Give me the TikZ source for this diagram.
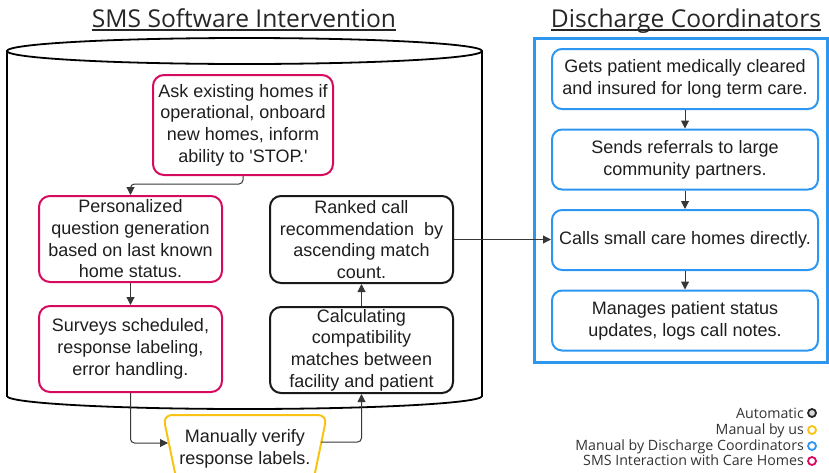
\documentclass[tikz,border=0pt]{standalone}
\usepackage{fontspec}
\setmainfont{Liberation Sans}[Ligatures=TeXOff]
\newfontfamily\titlefont{Open Sans}
\usetikzlibrary{arrows.meta}
\definecolor{pinkc}{RGB}{214,10,95}
\definecolor{yellowc}{RGB}{250,195,20}
\definecolor{bluec}{RGB}{45,150,240}
\definecolor{txt}{RGB}{30,30,30}
\definecolor{arrc}{RGB}{55,55,55}
\begin{document}
\begin{tikzpicture}[x=1pt,y=-1pt,
  box/.style={draw, rounded corners=11pt, line width=2pt, align=center, text=txt,
    font=\fontsize{18}{21.7}\selectfont, inner sep=0pt},
  pinkbox/.style={box, draw=pinkc, minimum width=183pt, minimum height=86pt},
  blackbox/.style={box, draw=black!90, minimum width=183pt, minimum height=86pt},
  bluebox/.style={box, draw=bluec, minimum width=266pt, minimum height=60pt, rounded corners=10pt},
  arr/.style={draw=arrc, line width=1pt, rounded corners=4pt, -{Triangle[length=8pt,width=8pt]}, fill=none},
  ttl/.style={font=\titlefont\fontsize{24.6}{28}\selectfont, text=black!85, inner sep=0pt},
  leg/.style={font=\titlefont\fontsize{14.2}{16}\selectfont, text=black!80, inner sep=0pt, anchor=base east},
  legc/.style={line width=1.8pt}
]
\useasboundingbox (0,0) rectangle (829,472);
\clip (0,0) rectangle (829,472);

% titles
\node[ttl, anchor=base] (t1) at (244,27) {SMS Software Intervention};
\draw[line width=1.2pt, black!85] ([yshift=-3pt]t1.base west) -- ([yshift=-3pt]t1.base east);
\node[ttl, anchor=base] (t2) at (686,27) {Discharge Coordinators};
\draw[line width=1.2pt, black!85] ([yshift=-3pt]t2.base west) -- ([yshift=-3pt]t2.base east);

% cylinder
\draw[line width=1.8pt] (244.5,51) ellipse [x radius=237.5pt, y radius=13pt];
\draw[line width=1.8pt] (7,51) -- (7,396) arc[start angle=180, end angle=360, x radius=237.5pt, y radius=13pt] -- (482,51);

% blue container
\draw[bluec, line width=3pt] (534,38) rectangle (827.5,362);

% left boxes
\node[pinkbox, minimum width=180pt, minimum height=100pt] (ask) at (243,125)
  {Ask existing homes if\\operational, onboard\\new homes, inform\\ability to 'STOP.'};
\node[pinkbox] (pers) at (130.5,239) {Personalized\\question generation\\based on last known\\home status.};
\node[pinkbox] (surv) at (130.5,349) {Surveys scheduled,\\response labeling,\\error handling.};
\node[blackbox, minimum height=87pt] (rank) at (361.5,239.5) {Ranked call\\recommendation\ \ by\\ascending match\\count.};
\node[blackbox] (calc) at (361.5,350) {Calculating\\compatibility\\matches between\\facility and patient};

% trapezoid
\draw[yellowc, line width=2pt, rounded corners=9pt] (163,415) -- (327,415) -- (311,492) -- (179,492) -- cycle;
\node[align=center, text=txt, font=\fontsize{18}{21.7}\selectfont, inner sep=0pt] (verify) at (245,449)
  {Manually verify\\response labels.};
\coordinate (vl) at (168,443);
\coordinate (vr) at (321,442);

% blue boxes
\node[bluebox] (b1) at (685,79) {Gets patient medically cleared\\and insured for long term care.};
\node[bluebox] (b2) at (685,159.5) {Sends referrals to large\\community partners.};
\node[bluebox] (b3) at (685,240) {Calls small care homes directly.};
\node[bluebox] (b4) at (685,320.5) {Manages patient status\\updates, logs call notes.};

% connectors
\draw[arr] (ask.south) -- ++(0,8) -| (pers.north);
\draw[arr] (pers.south) -- (surv.north);
\draw[arr] (surv.south) |- (vl);
\draw[arr] (vr) -| (calc.south);
\draw[arr] (calc.north) -- (rank.south);
\draw[arr] (rank.east) -- (rank.east -| b3.west);
\draw[arr] (b1.south) -- (b2.north);
\draw[arr] (b2.south) -- (b3.north);
\draw[arr] (b3.south) -- (b4.north);

% legend
\node[leg] (l1) at (804,418) {Automatic};
\node[leg] (l2) at (804,434.5) {Manual by us};
\node[leg] (l3) at (804,450.5) {Manual by Discharge Coordinators};
\node[leg] (l4) at (804,465.5) {SMS Interaction with Care Homes};
\draw[legc, black!85, fill=black!15] (812,413) circle (4pt);
\draw[legc, yellowc, fill=white] (812,430) circle (4pt);
\draw[legc, bluec, fill=white] (812,446) circle (4pt);
\draw[legc, pinkc, fill=white] (812,461) circle (4pt);
\end{tikzpicture}
\end{document}
